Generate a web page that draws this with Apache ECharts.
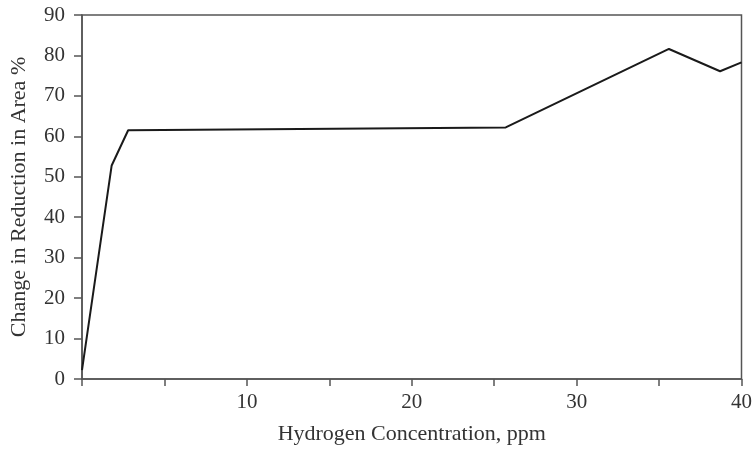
<!DOCTYPE html>
<html>
<head>
<meta charset="utf-8">
<script src="https://cdn.jsdelivr.net/npm/echarts@6/dist/echarts.min.js"></script>
<style>html,body{margin:0;padding:0;background:#fff;}#c{width:755px;height:450px;}</style>
</head>
<body>
<div id="c"></div>
<script>
const hydrogenPpm = [0, 1.8, 2.8, 25.7, 35.6, 38.7, 40];
const changeRA = [2.2, 52.8, 61.5, 62.2, 81.6, 76.1, 78.3];
const xTickLabels = ['', '', '10', '', '20', '', '30', '', '40'];
const yTickLabels = ['0','10','20','30','40','50','60','70','80','90'];

const font = 'Liberation Serif';
const chart = echarts.init(document.getElementById('c'), null, {renderer: 'canvas'});
const axisColor = '#555';
chart.setOption({
  animation: false,
  backgroundColor: '#fff',
  grid: {left: 77, right: 11, top: 15, bottom: 67, show: true, borderColor: axisColor, borderWidth: 1.5},
  xAxis: {
    type: 'value', min: 0, max: 40, interval: 5,
    name: 'Hydrogen Concentration, ppm', nameLocation: 'middle', nameGap: 44,
    nameTextStyle: {fontFamily: font, fontSize: 22, color: '#333'},
    axisLine: {show: true, lineStyle: {color: axisColor, width: 1.5}},
    axisTick: {show: true, length: 7, lineStyle: {color: axisColor, width: 1.5}},
    axisLabel: {fontFamily: font, fontSize: 21, color: '#333', margin: 13,
      formatter: (v) => xTickLabels[Math.round(v / 5)] || ''},
    splitLine: {show: false}
  },
  yAxis: {
    type: 'value', min: 0, max: 90, interval: 10,
    name: 'Change in Reduction in Area %', nameLocation: 'middle', nameGap: 52,
    nameTextStyle: {fontFamily: font, fontSize: 22, color: '#333'},
    axisLine: {show: true, lineStyle: {color: axisColor, width: 1.5}},
    axisTick: {show: true, length: 8, lineStyle: {color: axisColor, width: 1.5}},
    axisLabel: {fontFamily: font, fontSize: 21, color: '#333', margin: 17,
      formatter: (v) => yTickLabels[Math.round(v / 10)]},
    splitLine: {show: false}
  },
  series: [{
    type: 'line',
    data: hydrogenPpm.map((x, i) => [x, changeRA[i]]),
    symbol: 'none',
    lineStyle: {color: '#1a1a1a', width: 2},
    clip: true
  }]
});
</script>
</body>
</html>
